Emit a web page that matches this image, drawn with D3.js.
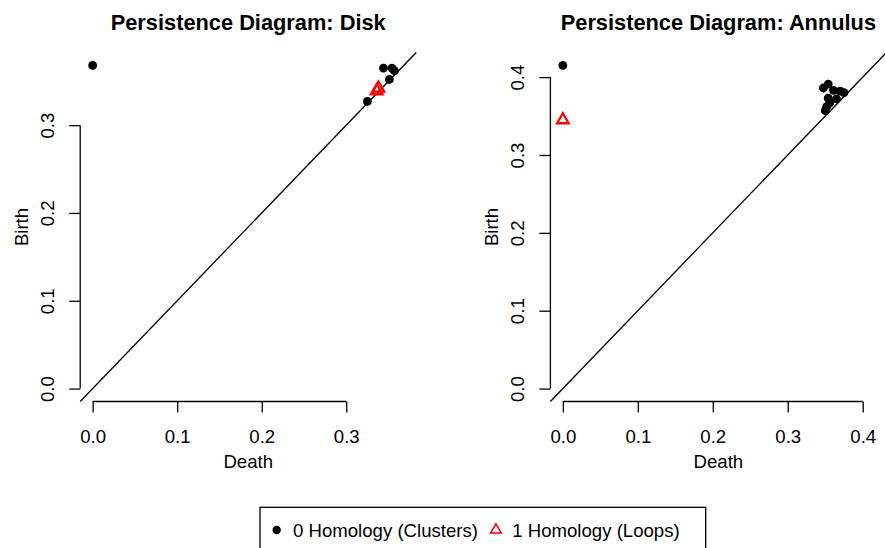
<!DOCTYPE html>
<html>
<head>
<meta charset="utf-8">
<script src="https://cdn.jsdelivr.net/npm/d3@7"></script>
<style>
body { margin: 0; background: #fff; }
svg { display: block; font-family: "Liberation Sans", Arial, Helvetica, sans-serif; }
</style>
</head>
<body>
<div id="chart"></div>
<script>
var w = 885; var h = 548;

// Disk: 0-dim (clusters) and 1-dim (loops) features
var diskDeath0 = [0, 0.344, 0.354, 0.357, 0.351, 0.325];
var diskBirth0 = [0.368, 0.365, 0.365, 0.362, 0.352, 0.327];
var diskDeath1 = [0.336, 0.338];
var diskBirth1 = [0.339, 0.342];

// Annulus
var annDeath0 = [0, 0.3475, 0.354, 0.361, 0.370, 0.375, 0.354, 0.365, 0.356, 0.352, 0.350];
var annBirth0 = [0.415, 0.386, 0.391, 0.383, 0.382, 0.380, 0.373, 0.372, 0.367, 0.362, 0.357];
var annDeath1 = [0];
var annBirth1 = [0.345];

var titles = ['Persistence Diagram: Disk', 'Persistence Diagram: Annulus'];
var diskTicks = [0, 0.1, 0.2, 0.3];
var annTicks = [0, 0.1, 0.2, 0.3, 0.4];
var legendLabels = ['0 Homology (Clusters)', '1 Homology (Loops)'];
var colors = ['#000000', '#FF0000'];

var pw = 336; var ph = 349;
var fs = 18.6;

var svg = d3.select('#chart')
	.append('svg')
	.attr('width', w)
	.attr('height', h);

function zip(a, b) {
	return a.map(function(d, i) { return {death: d, birth: b[i]}; });
}

function drawPanel(left, top, title, ticks, pts0, pts1) {
	var all = pts0.concat(pts1);
	var lim = d3.max(all, function(d) { return Math.max(d.death, d.birth); });
	var pad = lim * 0.04;

	var x = d3.scaleLinear().domain([-pad, lim + pad]).range([left, left + pw]);
	var y = d3.scaleLinear().domain([-pad, lim + pad]).range([top + ph, top]);

	var fmt = d3.format('.1f');

	// x axis
	var gx = svg.append('g')
		.attr('transform', 'translate(0,' + (top + ph) + ')')
		.call(d3.axisBottom(x).tickValues(ticks).tickFormat(fmt).tickSize(11).tickPadding(17));
	gx.select('.domain').remove();
	gx.append('line')
		.attr('x1', x(ticks[0])).attr('x2', x(ticks[ticks.length - 1]))
		.attr('stroke', '#000');
	gx.selectAll('text').attr('font-size', fs).attr('fill', '#000').attr('font-family', null);
	gx.selectAll('line').attr('stroke-width', 1.3);

	// y axis
	var gy = svg.append('g')
		.attr('transform', 'translate(' + left + ',0)')
		.call(d3.axisLeft(y).tickValues(ticks).tickFormat(fmt).tickSize(11));
	gy.select('.domain').remove();
	gy.append('line')
		.attr('y1', y(ticks[0])).attr('y2', y(ticks[ticks.length - 1]))
		.attr('stroke', '#000');
	gy.selectAll('line').attr('stroke-width', 1.3);
	gy.selectAll('text')
		.attr('font-size', fs).attr('fill', '#000').attr('font-family', null)
		.attr('text-anchor', 'middle')
		.attr('transform', 'rotate(-90)')
		.attr('x', 0).attr('y', -26.5).attr('dy', null);

	// axis titles
	svg.append('text')
		.attr('x', left + pw / 2).attr('y', 468)
		.attr('text-anchor', 'middle').attr('font-size', fs)
		.text('Death');
	svg.append('text')
		.attr('transform', 'translate(' + (left - 52.5) + ',' + (top + ph / 2) + ') rotate(-90)')
		.attr('text-anchor', 'middle').attr('font-size', fs)
		.text('Birth');

	svg.append('text')
		.attr('x', left + pw / 2).attr('y', 29.5)
		.attr('text-anchor', 'middle').attr('font-size', 21.8).attr('font-weight', 'bold')
		.text(title);

	// diagonal
	svg.append('line')
		.attr('x1', x(-pad)).attr('y1', y(-pad))
		.attr('x2', x(lim + pad)).attr('y2', y(lim + pad))
		.attr('stroke', '#000').attr('stroke-width', 1.3);

	svg.append('g').selectAll('circle')
		.data(pts0)
		.enter()
		.append('circle')
		.attr('cx', function(d) { return x(d.death); })
		.attr('cy', function(d) { return y(d.birth); })
		.attr('r', 4.4)
		.attr('fill', colors[0]);

	var tri = d3.symbol().type(d3.symbolTriangle).size(58);
	svg.append('g').selectAll('path')
		.data(pts1)
		.enter()
		.append('path')
		.attr('d', tri)
		.attr('transform', function(d) { return 'translate(' + x(d.death) + ',' + y(d.birth) + ')'; })
		.attr('fill', 'none')
		.attr('stroke', colors[1])
		.attr('stroke-width', 2.3);
}

drawPanel(80.2, 52.5, titles[0], diskTicks, zip(diskDeath0, diskBirth0), zip(diskDeath1, diskBirth1));
drawPanel(550.4, 52.5, titles[1], annTicks, zip(annDeath0, annBirth0), zip(annDeath1, annBirth1));

// legend
var lg = svg.append('g');
var box = lg.append('rect')
	.attr('x', 260).attr('y', 507.3)
	.attr('height', 80)
	.attr('fill', 'none').attr('stroke', '#000').attr('stroke-width', 1.3);

var t1 = lg.append('text')
	.attr('x', 293).attr('y', 536.5).attr('font-size', fs)
	.text(legendLabels[0]);
lg.append('circle')
	.attr('cx', 276.7).attr('cy', 530).attr('r', 4.2).attr('fill', colors[0]);

var x2 = 293 + t1.node().getComputedTextLength() + 18;
lg.append('path')
	.attr('d', d3.symbol().type(d3.symbolTriangle).size(50))
	.attr('transform', 'translate(' + x2 + ',530)')
	.attr('fill', 'none').attr('stroke', colors[1]).attr('stroke-width', 1.5);
var t2 = lg.append('text')
	.attr('x', x2 + 16.3).attr('y', 536.5).attr('font-size', fs)
	.text(legendLabels[1]);

box.attr('width', x2 + 16.3 + t2.node().getComputedTextLength() + 26 - 260);
</script>
</body>
</html>
